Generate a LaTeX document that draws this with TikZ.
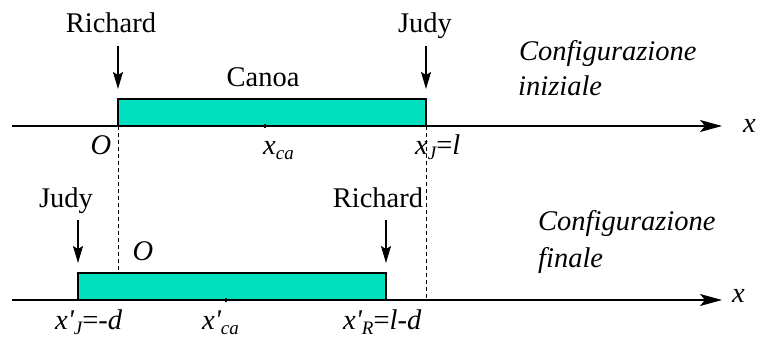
\documentclass[tikz,border=0pt]{standalone}
\usepackage{fontspec}
\setmainfont{LiberationSerif-Regular.ttf}[ItalicFont=LiberationSerif-Italic.ttf, BoldFont=LiberationSerif-Bold.ttf]
\usetikzlibrary{arrows.meta}
\definecolor{canoe}{RGB}{0,224,190}
\newcommand{\sbs}[1]{\raisebox{-5pt}{\fontsize{19}{20}\selectfont\itshape #1}}
\newcommand{\pr}{\textquotesingle}
\tikzset{
  lbl/.style={font=\fontsize{28.5}{30}\selectfont, anchor=base, inner sep=0pt},
  ilbl/.style={font=\fontsize{28.5}{30}\selectfont\itshape, anchor=base west, inner sep=0pt},
  axis/.style={line width=1.3pt, -{Stealth[length=22pt,width=12pt,inset=5pt]}},
  boat/.style={fill=canoe, draw=black, line width=2.6pt},
  down/.style={line width=1.3pt, -{Stealth[length=17pt,width=10pt,inset=3pt]}},
  guide/.style={line width=0.9pt, dash pattern=on 4pt off 3pt},
}
\begin{document}
\begin{tikzpicture}[x=1pt,y=-1pt]
\useasboundingbox (0,0) rectangle (760,337);
% ---- top
\coordinate (a1s) at (12,126);
\coordinate (a1e) at (722,126);
\draw[guide] (118,126) coordinate (g1s) -- (118,273) coordinate (g1e);
\draw[guide] (426,126) coordinate (g2s) -- (426,300) coordinate (g2e);
\draw[axis] (a1s) -- (a1e);
\draw[boat] (118,99) rectangle (426,126);
\draw[line width=1.5pt] (265,124) -- (265,128);
\node[lbl] (rich1) at (111,33) {Richard};
\node[lbl] (judy1) at (425,33) {Judy};
\coordinate (r1a) at (118,46); \coordinate (r1b) at (118,89);
\coordinate (j1a) at (426,46); \coordinate (j1b) at (426,89);
\draw[down] (r1a) -- (r1b);
\draw[down] (j1a) -- (j1b);
\node[lbl] (canoa) at (263,86) {Canoa};
\node[lbl] (o1) at (101,154) {\itshape O};
\node[lbl, anchor=base west] (xca) at (263,154) {\itshape x\sbs{ca}};
\node[lbl, anchor=base west] (xj) at (415,154) {\itshape x\sbs{J}\upshape=\itshape l};
\node[ilbl] (ci1) at (519,60) {Configurazione};
\node[ilbl] (ci2) at (518,95) {iniziale};
\node[lbl, anchor=base west] (x1) at (743,132) {\itshape x};
% ---- bottom
\coordinate (a2s) at (12,300);
\coordinate (a2e) at (722,300);
\draw[axis] (a2s) -- (a2e);
\draw[boat] (78,273) rectangle (386,300);
\draw[line width=1.5pt] (226,298) -- (226,302);
\node[lbl] (judy2) at (66,207) {Judy};
\node[lbl] (rich2) at (378,207) {Richard};
\coordinate (j2a) at (78,220); \coordinate (j2b) at (78,263);
\coordinate (r2a) at (386,220); \coordinate (r2b) at (386,263);
\draw[down] (j2a) -- (j2b);
\draw[down] (r2a) -- (r2b);
\node[lbl] (o2) at (143,260) {\itshape O};
\node[lbl, anchor=base west] (xpj) at (55,329) {\itshape x\pr\sbs{J}\upshape=\itshape -d};
\node[lbl, anchor=base west] (xpca) at (202,329) {\itshape x\pr\sbs{ca}};
\node[lbl, anchor=base west] (xpr) at (343,329) {\itshape x\pr\sbs{R}\upshape=\itshape l-d};
\node[ilbl] (cf1) at (538,230) {Configurazione};
\node[ilbl] (cf2) at (538,267) {finale};
\node[lbl, anchor=base west] (x2) at (732,302) {\itshape x};
\end{tikzpicture}
\end{document}
